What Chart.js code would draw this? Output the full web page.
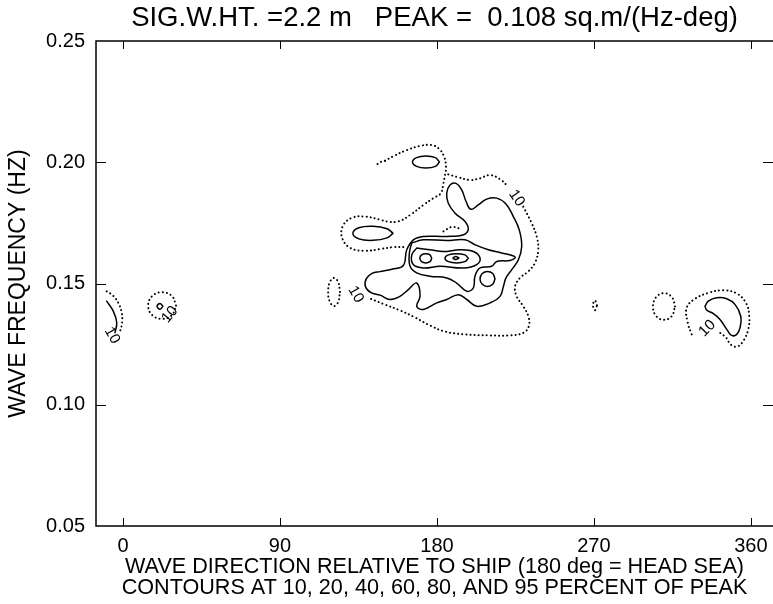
<!DOCTYPE html>
<html>
<head>
<meta charset="utf-8">
<script src="https://cdn.jsdelivr.net/npm/chart.js@4.4.0/dist/chart.umd.min.js"></script>
<style>
  html, body { margin: 0; padding: 0; background: #fff; }
  #wrap { width: 773px; height: 604px; }
</style>
</head>
<body>
<div id="wrap"><canvas id="contourChart" width="773" height="604"></canvas></div>
<script>
const X_TICKS = [0, 90, 180, 270, 360];
const Y_TICKS = [0.05, 0.10, 0.15, 0.20, 0.25];

// contour lines: [direction (deg), frequency (Hz)]
// dotted = lowest level, solid = higher levels
const dottedTop = [
  [150.2, 0.2006], [155.0, 0.2025], [162.7, 0.2050], [170.3, 0.2067], [177.0, 0.2071],
  [181.4, 0.2054], [184.1, 0.2023], [185.2, 0.1982], [184.6, 0.1947], [183.7, 0.1913],
  [182.2, 0.1872], [177.9, 0.1852], [172.2, 0.1824], [165.5, 0.1787], [157.9, 0.1756],
  [151.2, 0.1756], [147.4, 0.1763], [138.8, 0.1776], [131.3, 0.1771], [126.1, 0.1738],
  [125.6, 0.1689], [130.2, 0.1647], [138.8, 0.1635], [147.4, 0.1642], [155.0, 0.1650],
  [161.7, 0.1650]
];
const dottedTopLeft = [[150.2, 0.2006], [147.4, 0.2000], [144.7, 0.1985]];
const dottedUpperRight = [
  [186.5, 0.1950], [191.3, 0.1940], [199.0, 0.1927], [204.7, 0.1934], [210.4, 0.1947],
  [216.2, 0.1930], [220.9, 0.1899]
];
const dottedRightLower = [
  [229.5, 0.1817], [234.3, 0.1749], [237.2, 0.1694], [238.1, 0.1639], [236.2, 0.1585],
  [232.4, 0.1550], [227.6, 0.1523], [224.8, 0.1488], [225.7, 0.1447], [229.5, 0.1406],
  [232.4, 0.1365], [232.8, 0.1327], [230.0, 0.1298], [221.9, 0.1286], [210.4, 0.1286],
  [196.1, 0.1290], [184.6, 0.1302], [176.0, 0.1327], [167.4, 0.1360], [158.8, 0.1389],
  [150.2, 0.1413], [141.6, 0.1438]
];
const dottedInner = [[183.7, 0.1715], [188.5, 0.1733], [193.2, 0.1726]];
const solidTopEllipse = [
  [181.4, 0.2001], [179.1, 0.2019], [173.7, 0.2026], [168.3, 0.2019],
  [166.0, 0.2001], [168.3, 0.1983], [173.7, 0.1976], [179.1, 0.1983]
];
const solidLeftLens = [
  [154.8, 0.1707], [151.4, 0.1726], [143.3, 0.1736], [135.2, 0.1730],
  [131.8, 0.1707], [135.2, 0.1684], [143.3, 0.1678], [151.4, 0.1688]
];
const solid20 = [
  [147.4, 0.1549], [154.2, 0.1559], [160.7, 0.1574], [162.7, 0.1639], [166.5, 0.1680],
  [172.2, 0.1694], [185.6, 0.1694], [195.2, 0.1701], [198.0, 0.1724], [196.1, 0.1756],
  [190.4, 0.1790], [186.5, 0.1831], [185.6, 0.1872], [187.5, 0.1906], [190.9, 0.1913],
  [194.2, 0.1886], [196.7, 0.1838], [199.4, 0.1806], [203.7, 0.1824], [208.5, 0.1848],
  [214.3, 0.1852], [219.6, 0.1828], [223.8, 0.1776], [227.2, 0.1721], [228.6, 0.1653],
  [226.7, 0.1598], [222.9, 0.1557], [219.6, 0.1523], [218.1, 0.1488], [216.2, 0.1447],
  [210.4, 0.1420], [202.8, 0.1406], [197.1, 0.1434], [192.3, 0.1454], [185.6, 0.1434],
  [179.9, 0.1420], [172.2, 0.1393], [168.4, 0.1406], [170.3, 0.1447], [168.4, 0.1502],
  [163.6, 0.1475], [158.8, 0.1447], [153.1, 0.1434], [147.4, 0.1452], [142.2, 0.1462],
  [139.0, 0.1488], [139.5, 0.1520], [142.8, 0.1542]
];
const solid40 = [
  [165.5, 0.1667], [172.2, 0.1680], [185.6, 0.1677], [196.1, 0.1680], [201.8, 0.1660],
  [209.5, 0.1639], [217.1, 0.1626], [224.8, 0.1609], [221.9, 0.1595], [214.3, 0.1591],
  [211.4, 0.1571], [204.7, 0.1564], [201.8, 0.1530], [200.9, 0.1482], [197.1, 0.1468],
  [191.3, 0.1502], [185.6, 0.1523], [176.0, 0.1530], [168.4, 0.1544], [164.6, 0.1571],
  [164.2, 0.1626]
];
const solid60 = [
  [168.4, 0.1646], [176.0, 0.1639], [183.7, 0.1632], [193.2, 0.1639], [200.9, 0.1632],
  [204.7, 0.1605], [202.8, 0.1578], [195.2, 0.1564], [181.8, 0.1571], [172.2, 0.1564],
  [166.4, 0.1578], [165.6, 0.1619]
];
const solid80 = [
  [198.0, 0.1604], [196.0, 0.1618], [191.3, 0.1623], [186.6, 0.1618],
  [184.6, 0.1604], [186.6, 0.1590], [191.3, 0.1585], [196.0, 0.1590]
];
const solid80Left = [
  [177.0, 0.1604], [176.0, 0.1618], [173.6, 0.1623], [171.2, 0.1618],
  [170.2, 0.1604], [171.2, 0.1590], [173.6, 0.1585], [176.0, 0.1590]
];
const solid95 = [[192.6, 0.1605], [190.9, 0.1611], [189.2, 0.1605], [190.9, 0.1599]];
const solidLowerRight = [
  [213.3, 0.1519], [212.0, 0.1541], [209.0, 0.1550], [206.0, 0.1541],
  [204.7, 0.1519], [206.0, 0.1497], [209.0, 0.1488], [212.0, 0.1497]
];
const dotted120 = [
  [124.4, 0.1465], [123.4, 0.1506], [121.0, 0.1523], [118.6, 0.1506],
  [117.6, 0.1465], [118.6, 0.1424], [121.0, 0.1407], [123.4, 0.1424]
];
const dotted270 = [[271.8, 0.1410], [270.6, 0.1430], [269.4, 0.1410], [270.6, 0.1390]];
const dotted310 = [
  [316.5, 0.1405], [314.7, 0.1444], [310.2, 0.1460], [305.7, 0.1444],
  [303.9, 0.1405], [305.7, 0.1366], [310.2, 0.1350], [314.7, 0.1366]
];
const dottedRight = [
  [326.1, 0.1290], [323.8, 0.1338], [323.2, 0.1400], [328.0, 0.1437], [335.6, 0.1461],
  [344.2, 0.1472], [351.9, 0.1459], [357.2, 0.1420], [359.1, 0.1365], [358.5, 0.1311],
  [356.0, 0.1267], [352.2, 0.1240], [348.5, 0.1248], [345.8, 0.1277], [342.3, 0.1297]
];
const solidRight = [
  [333.7, 0.1406], [335.6, 0.1427], [340.4, 0.1441], [346.2, 0.1437], [351.0, 0.1413],
  [354.2, 0.1365], [353.8, 0.1318], [351.9, 0.1290], [349.0, 0.1286], [346.2, 0.1311],
  [342.3, 0.1352], [338.5, 0.1376], [334.7, 0.1390]
];
const dotted22 = [
  [30.4, 0.1409], [28.1, 0.1448], [22.4, 0.1464], [16.7, 0.1448],
  [14.4, 0.1409], [16.7, 0.1370], [22.4, 0.1354], [28.1, 0.1370]
];
const solid22 = [[22.9, 0.1406], [21.2, 0.1418], [19.5, 0.1406], [21.2, 0.1394]];
const dottedEdge = [
  [-9.4, 0.1468], [-5.7, 0.1450], [-2.7, 0.1420], [-0.9, 0.1385],
  [-0.4, 0.1352], [-0.9, 0.1323], [-1.7, 0.1304]
];
const solidEdge = [[-9.4, 0.1427], [-5.6, 0.1386], [-3.6, 0.1338], [-4.6, 0.1297]];

// "10" contour labels: [deg, Hz, rotation]
const LEVEL_LABELS = [
  [225.7, 0.1852, 55], [133.5, 0.1455, 60], [-6.3, 0.1286, 60],
  [26.9, 0.1372, -50], [335.0, 0.1315, -45]
];

const FONT = 'Liberation Sans';

function closed(pts) { return pts.concat([pts[0]]); }
function line(pts, dotted) {
  return {
    data: pts.map(p => ({ x: p[0], y: p[1] })),
    showLine: true,
    pointRadius: 0,
    borderColor: '#000',
    borderWidth: dotted ? 2 : 1.5,
    borderDash: dotted ? [0.1, 4] : [],
    borderCapStyle: 'round',
    tension: 0.4
  };
}

const framePlugin = {
  id: 'frame',
  afterDraw(chart) {
    const { ctx, chartArea: a, scales } = chart;
    ctx.save();
    ctx.strokeStyle = '#000';
    ctx.lineWidth = 1.5;
    ctx.beginPath();
    ctx.moveTo(a.right, a.top); ctx.lineTo(a.left, a.top);
    ctx.lineTo(a.left, a.bottom); ctx.lineTo(a.right, a.bottom);
    ctx.stroke();
    ctx.lineWidth = 1;
    ctx.beginPath();
    X_TICKS.forEach(v => {
      const x = Math.round(scales.x.getPixelForValue(v)) + 0.5;
      ctx.moveTo(x, a.bottom); ctx.lineTo(x, a.bottom - 8);
      ctx.moveTo(x, a.top); ctx.lineTo(x, a.top + 8);
    });
    Y_TICKS.slice(1, -1).forEach(v => {
      const y = Math.round(scales.y.getPixelForValue(v)) + 0.5;
      ctx.moveTo(a.left, y); ctx.lineTo(a.left + 10, y);
      ctx.moveTo(a.right, y); ctx.lineTo(a.right - 10, y);
    });
    ctx.stroke();
    // contour level labels
    ctx.fillStyle = '#000';
    ctx.font = '15px "' + FONT + '"';
    ctx.textAlign = 'center';
    ctx.textBaseline = 'middle';
    LEVEL_LABELS.forEach(l => {
      const x = scales.x.getPixelForValue(l[0]);
      const y = scales.y.getPixelForValue(l[1]);
      ctx.save();
      ctx.translate(x, y);
      ctx.rotate(l[2] * Math.PI / 180);
      ctx.fillText('10', 0, 0);
      ctx.restore();
    });
    ctx.restore();
  }
};

new Chart(document.getElementById('contourChart'), {
  type: 'scatter',
  data: {
    datasets: [
      line(dottedTop, true),
      line(dottedTopLeft, true),
      line(dottedUpperRight, true),
      line(dottedRightLower, true),
      line(dottedInner, true),
      line(closed(solidTopEllipse), false),
      line(closed(solidLeftLens), false),
      line(closed(solid20), false),
      line(closed(solid40), false),
      line(closed(solid60), false),
      line(closed(solid80), false),
      line(closed(solid80Left), false),
      line(closed(solid95), false),
      line(closed(solidLowerRight), false),
      line(closed(dotted120), true),
      line(closed(dotted270), true),
      line(closed(dotted310), true),
      line(dottedRight, true),
      line(closed(solidRight), false),
      line(closed(dotted22), true),
      line(closed(solid22), false),
      line(dottedEdge, true),
      line(solidEdge, false)
    ]
  },
  options: {
    responsive: false,
    animation: false,
    devicePixelRatio: 1,
    layout: { padding: 0 },
    plugins: {
      legend: { display: false },
      tooltip: { enabled: false },
      title: {
        display: true,
        text: 'SIG.W.HT. =2.2 m   PEAK =  0.108 sq.m/(Hz-deg)',
        fullSize: false,
        color: '#000',
        font: { family: FONT, size: 27.5, weight: 'normal', lineHeight: '32px' },
        padding: { top: 2, bottom: 7 }
      }
    },
    scales: {
      x: {
        type: 'linear',
        min: -15.5,
        max: 372.7,
        afterBuildTicks: s => { s.ticks = X_TICKS.map(v => ({ value: v })); },
        afterFit: s => { s.height = 78; },
        grid: { display: false },
        border: { display: false },
        ticks: { color: '#000', font: { family: FONT, size: 20 }, padding: 0, maxRotation: 0 },
        title: {
          display: true,
          text: ['WAVE DIRECTION RELATIVE TO SHIP (180 deg = HEAD SEA)',
                 'CONTOURS AT 10, 20, 40, 60, 80, AND 95 PERCENT OF PEAK'],
          color: '#000',
          font: { family: FONT, size: 21.6, lineHeight: '21px' },
          padding: { top: 0, bottom: 5 }
        }
      },
      y: {
        type: 'linear',
        min: 0.05,
        max: 0.25,
        afterBuildTicks: s => { s.ticks = Y_TICKS.map(v => ({ value: v })); },
        afterFit: s => { s.width = 96; },
        grid: { display: false },
        border: { display: false },
        ticks: { color: '#000', font: { family: FONT, size: 20 }, padding: 3,
                 callback: v => v.toFixed(2) },
        title: {
          display: true,
          text: 'WAVE FREQUENCY (HZ)',
          color: '#000',
          font: { family: FONT, size: 23, lineHeight: '22px' },
          padding: { top: 8, bottom: 0 }
        }
      }
    }
  },
  plugins: [framePlugin]
});
</script>
</body>
</html>
